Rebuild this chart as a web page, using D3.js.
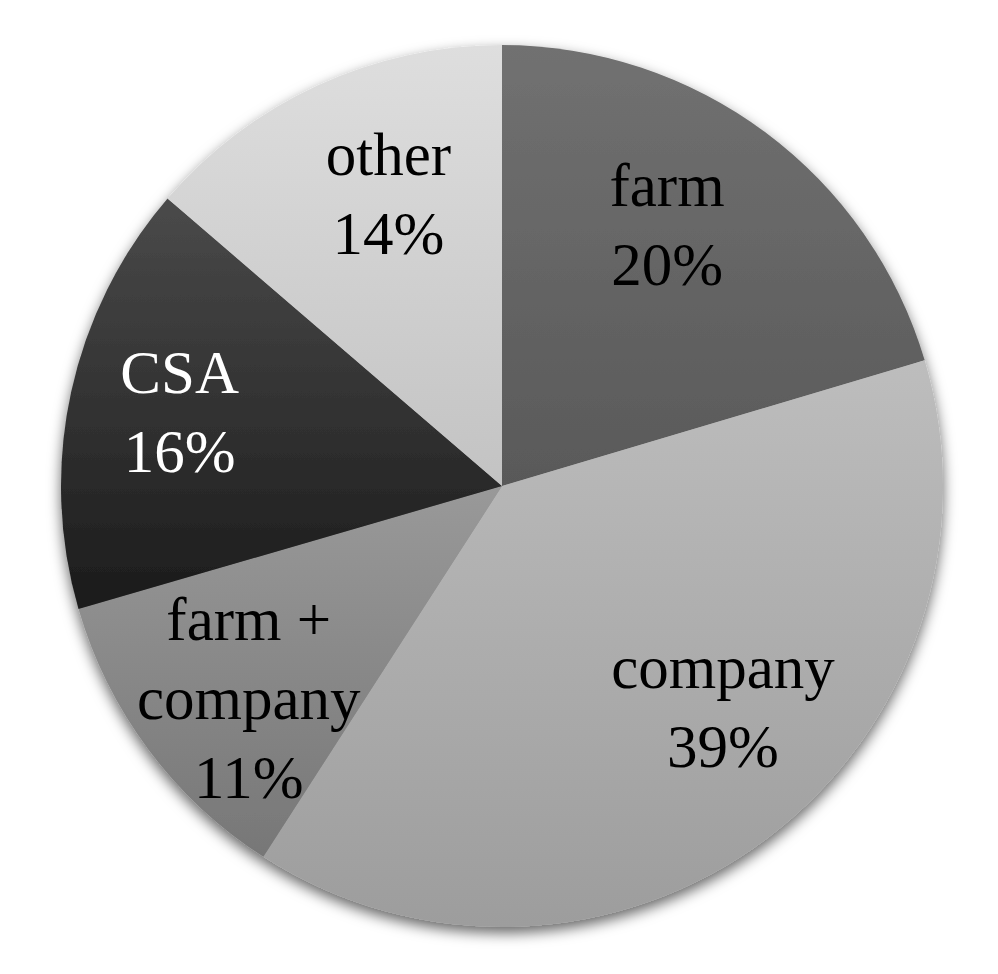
<!DOCTYPE html>
<html><head><meta charset="utf-8">
<script src="https://cdn.jsdelivr.net/npm/d3@7"></script>
<style>html,body{margin:0;padding:0;background:#fff;}svg{display:block;}</style>
</head><body>
<script>
const categories = ["farm", "company", "farm +\ncompany", "CSA", "other"];
const values = [20.4, 38.7, 11.4, 15.8, 13.7];
const colorsTop = ["#717171", "#bdbdbd", "#999999", "#4a4a4a", "#dedede"];
const colorsBottom = ["#595959", "#9d9d9d", "#777777", "#1b1b1b", "#c3c3c3"];
const labelColors = ["#000", "#000", "#000", "#fff", "#000"];
// label placement tweaks (fraction of radius, angle shift in degrees) – "best fit" style
const labelRadiusFrac = [0.70, 0.71, 0.75, 0.75, 0.71];
const labelAngleShift = [-4.4, -8, -3.3, 0.7, 3.4];

const W = 998, H = 974, cx = 502, cy = 486, R = 441;
const svg = d3.select("body").append("svg").attr("width", W).attr("height", H);
const defs = svg.append("defs");
const f = defs.append("filter").attr("id", "sh").attr("x", "-10%").attr("y", "-10%").attr("width", "120%").attr("height", "120%");
f.append("feDropShadow").attr("dx", 0).attr("dy", 6).attr("stdDeviation", 7).attr("flood-color", "#000").attr("flood-opacity", 0.6);

categories.forEach((c, i) => {
  const g = defs.append("linearGradient").attr("id", "g" + i).attr("x1", 0).attr("y1", 0).attr("x2", 0).attr("y2", 1);
  g.append("stop").attr("offset", "0%").attr("stop-color", colorsTop[i]);
  g.append("stop").attr("offset", "100%").attr("stop-color", colorsBottom[i]);
});

const data = categories.map((c, i) => ({ name: c, value: values[i], i }));
const pie = d3.pie().value(d => d.value).sort(null);
const arcs = pie(data);
const arc = d3.arc().innerRadius(0).outerRadius(R);

const g = svg.append("g").attr("transform", `translate(${cx},${cy})`);
const pg = g.append("g").attr("filter", "url(#sh)");
pg.selectAll("path").data(arcs).join("path")
  .attr("d", arc)
  .attr("fill", d => `url(#g${d.data.i})`);

const lh = 79, fs = 61;
arcs.forEach(d => {
  const i = d.data.i;
  const r = R * labelRadiusFrac[i];
  const shift = labelAngleShift[i] * Math.PI / 180;
  const la = d3.arc().innerRadius(r).outerRadius(r);
  const mid = (d.startAngle + d.endAngle) / 2 + shift;
  const [x, y] = la.centroid({ startAngle: mid, endAngle: mid });
  const lines = d.data.name.split("\n").concat([Math.round(d.data.value) + "%"]);
  const n = lines.length;
  const t = g.append("text")
    .attr("text-anchor", "middle")
    .attr("font-family", "'Liberation Serif', 'Times New Roman', serif")
    .attr("font-size", fs)
    .attr("fill", labelColors[i]);
  lines.forEach((l, k) => {
    t.append("tspan").attr("x", x).attr("y", y + (k - (n - 1) / 2) * lh + fs * 0.33).text(l);
  });
});
</script>
</body></html>
